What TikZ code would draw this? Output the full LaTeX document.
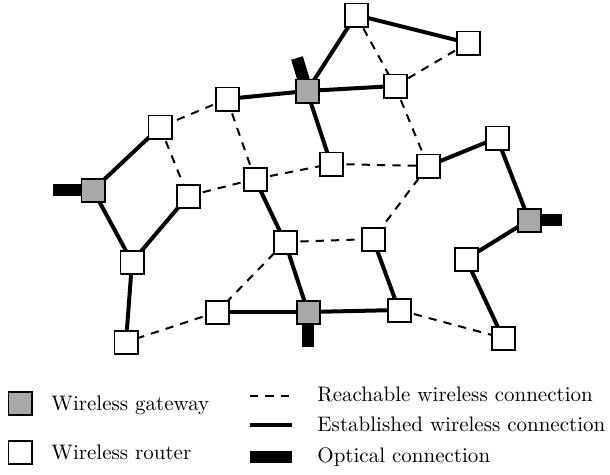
\documentclass[tikz,border=0pt]{standalone}
\usetikzlibrary{backgrounds}
\definecolor{gwgray}{RGB}{168,168,168}
\begin{document}
\begin{tikzpicture}[x=0.476pt,y=-0.476pt,
  router/.style={draw=black,line width=0.95pt,fill=white,minimum size=10.95pt,inner sep=0pt},
  gateway/.style={router,fill=gwgray},
  est/.style={line width=1.9pt},
  reach/.style={line width=0.95pt,dash pattern=on 3.9pt off 3.4pt},
  optical/.style={line width=5.8pt,line cap=butt},
  lbl/.style={anchor=base west,inner sep=0pt,font=\normalsize}]
\useasboundingbox (0,0) rectangle (610,474);
% nodes
\node[router]  (A) at (356,15) {};
\node[router]  (B) at (468,43) {};
\node[gateway] (C) at (307,91) {};
\node[router]  (D) at (395,86) {};
\node[router]  (E) at (227,99) {};
\node[router]  (F) at (160,127) {};
\node[router]  (G) at (497,138) {};
\node[gateway] (H) at (93,190) {};
\node[router]  (I) at (331,164) {};
\node[router]  (J) at (428,166) {};
\node[router]  (K) at (255,179) {};
\node[router]  (L) at (188,196) {};
\node[gateway] (M) at (529,220) {};
\node[router]  (N) at (285,242) {};
\node[router]  (O) at (373,239) {};
\node[router]  (P) at (466,259) {};
\node[router]  (Q) at (132,262) {};
\node[router]  (R) at (217,312) {};
\node[gateway] (S) at (308,312) {};
\node[router]  (T) at (399,310) {};
\node[router]  (U) at (503,338) {};
\node[router]  (V) at (126,342) {};
\coordinate (Hopt) at (53,190);
\coordinate (Copt) at (297,58);
\coordinate (Mopt) at (562,220);
\coordinate (Sopt) at (308,347);
\begin{scope}[on background layer]
  \foreach \a/\b in {A/B,A/C,C/E,C/D,C/I,H/F,H/Q,L/Q,Q/V,K/N,N/S,R/S,S/T,O/T,J/G,G/M,M/P,P/U}
    \draw[est] (\a.center) -- (\b.center);
  \foreach \a/\b in {A/D,D/B,D/J,E/F,E/K,F/L,L/K,K/I,I/J,J/O,N/O,N/R,R/V,T/U}
    \draw[reach] (\a.center) -- (\b.center);
  \draw[optical] (Hopt) -- (H.center);
  \draw[optical] (Copt) -- (C.center);
  \draw[optical] (Mopt) -- (M.center);
  \draw[optical] (Sopt) -- (S.center);
\end{scope}
% legend
\node[gateway] (lgw) at (20,403.5) {};
\node[router]  (lrt) at (20,452) {};
\node[lbl] (tgw) at (51,410) {Wireless gateway};
\node[lbl] (trt) at (51,459) {Wireless router};
\coordinate (lr1) at (250,395.5); \coordinate (lr2) at (292,395.5);
\coordinate (le1) at (250,425);   \coordinate (le2) at (292,425);
\coordinate (lo1) at (250,457);   \coordinate (lo2) at (292,457);
\draw[reach] (lr1) -- (lr2);
\draw[est] (le1) -- (le2);
\draw[optical] (lo1) -- (lo2);
\node[lbl] (trc) at (317,401.7) {Reachable wireless connection};
\node[lbl] (tes) at (317,431.7) {Established wireless connection};
\node[lbl] (top) at (317,462) {Optical connection};
\end{tikzpicture}
\end{document}
